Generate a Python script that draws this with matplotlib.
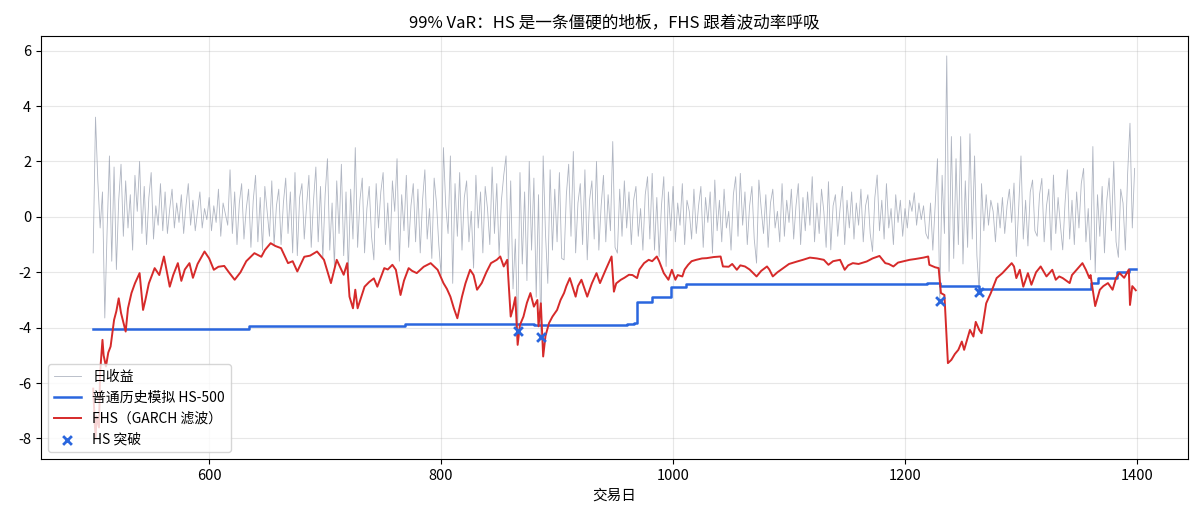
import numpy as np
import matplotlib
matplotlib.use("Agg")
import matplotlib.pyplot as plt

plt.rcParams['font.family'] = ['Noto Sans CJK SC', 'DejaVu Sans']
plt.rcParams['axes.unicode_minus'] = False

# 日收益（每两天读一个点，500..1398）
ret_start, ret_step = 500, 2
returns = [
    -1.3, 3.6, 1.3, -0.4, 0.9, -3.65, -0.5, 2.2, -1.6, 1.8,
    -1.9, 0.6, 1.9, -0.7, 1.3, -0.4, 0.8, -1.2, 1.5, 0.2,
    2.0, -0.6, 1.1, -1.0, 0.7, 1.6, -0.8, 0.4, -0.3, 1.2,
    -0.5, 0.9, -0.6, 0.3, 1.0, -0.4, 0.5, -0.2, 0.8, -0.6,
    0.4, 1.2, -0.3, 0.6, -0.5, 0.2, 0.9, -0.4, 0.3, -0.1,
    0.7, -0.5, 0.4, -0.2, 1.0, -0.7, 0.5, 0.1, -0.3, 1.7,
    -0.6, 0.9, -1.0, 0.5, 1.2, -0.8, 0.3, 1.0, -1.1, 0.6,
    1.5, -0.9, 0.7, -1.2, 1.1, 0.2, -0.7, 1.3, -1.0, 0.4,
    1.0, -1.0, 0.5, 1.4, -0.6, 0.9, -1.3, 1.6, -1.4, 0.7,
    1.2, -0.8, 0.4, 1.5, -1.1, 0.6, 1.8, -0.9, 1.1, -1.5,
    0.8, 2.1, -1.2, 0.5, -1.8, 1.3, -0.6, 1.9, -1.4, 0.9,
    -2.0, 1.0, -0.8, 2.5, -1.1, 0.6, 1.4, -1.3, 0.3, 1.1,
    -0.7, -1.55, 1.2, -0.4, 0.9, 1.6, -1.0, 0.5, -1.2, 1.3,
    0.2, 2.1, -1.6, 0.8, -0.5, 1.5, -1.1, 0.4, 1.2, -0.9,
    1.0, -1.3, 0.6, 1.7, -0.8, 0.3, -1.5, 1.4, 0.5, -1.0,
    -2.1, 2.5, 0.4, -0.6, 2.2, -2.4, 1.2, -0.7, 1.6, -1.2,
    0.7, 1.3, -0.9, 0.2, -1.85, 1.5, -0.4, 0.9, -1.3, 1.1,
    0.3, -1.0, 1.8, -0.6, 1.2, -1.4, 0.6, 1.5, 2.2, -1.9,
    1.3, -2.6, -0.8, -4.12, 1.6, -1.7, 0.9, -2.3, 2.0, -1.2,
    1.4, -2.9, 0.8, -4.34, 2.2, -0.6, -2.4, 1.7, -1.2, 1.0,
    -0.9, 1.6, -1.5, -1.55, 0.8, 1.9, -0.7, 2.36, -1.3, 0.5,
    1.2, -1.0, 1.7, -1.55, 0.6, 1.3, -0.8, 2.0, -1.2, 0.4,
    1.5, -0.9, 0.8, -0.5, 2.72, -1.1, -1.31, 1.0, -0.7, 1.3,
    -0.4, 0.9, -1.0, 0.6, 1.1, -0.7, 0.3, -1.2, 0.8, 1.45,
    -0.8, 1.57, -1.2, 0.7, -1.43, 0.4, 1.45, -1.79, 0.9, -0.5,
    1.1, -0.9, 0.5, -0.3, 1.2, -1.0, 0.6, 0.2, -0.8, 1.0,
    -0.6, 0.4, 1.1, -1.1, 0.7, -0.2, 0.9, -1.31, 1.33, -0.5,
    0.6, -0.9, 1.0, -0.4, 0.2, -1.2, 0.8, 1.45, -0.7, 1.57,
    -0.3, 0.9, -1.0, 0.4, 1.1, -0.8, -1.67, 1.33, 0.3, -0.6,
    0.8, -1.1, 0.5, 1.0, -0.4, 0.2, -0.9, 1.2, -0.7, 0.6,
    -0.2, 1.0, -0.8, 0.4, 1.2, -1.0, 0.7, -0.5, 0.9, -0.3,
    1.45, -0.9, 0.5, -0.6, 1.0, 0.2, -1.1, 1.27, -1.19, 0.4,
    0.8, -0.7, 0.3, 1.1, -1.0, 0.6, -0.4, 0.9, -0.8, 0.5,
    -0.3, 1.0, -0.9, 0.4, 0.8, -0.6, -1.25, 0.7, 1.51, -0.5,
    0.6, -0.8, 1.2, -0.4, 0.3, -1.0, 0.8, -0.2, 0.6, -0.7,
    0.3, -0.4, 0.6, 0.2, 0.87, -0.3, 0.5, -0.1, 0.4, -0.6,
    -0.8, 0.5, -1.2, 0.4, 2.1, -3.03, 1.5, -0.6, 5.81, -1.97,
    2.9, -1.5, 2.1, -1.0, 2.9, -1.7, 1.3, -1.1, 3.0, -0.8,
    2.2, -1.4, -2.72, 1.2, -0.5, 0.8, -0.3, 0.6, 0.2, -0.9,
    0.5, -0.4, 0.7, -0.6, 0.4, 1.0, -0.2, 1.22, -1.43, 0.3,
    2.2, -0.8, 0.6, -1.05, 0.9, 1.33, -0.5, -0.7, 0.8, 1.39,
    -0.9, 0.4, 1.0, -1.2, 1.51, -0.6, 0.7, -0.3, -1.19, 0.5,
    1.7, -0.8, 0.6, -1.0, 0.9, -0.4, 1.2, 1.75, -0.9, 0.3,
    -1.55, 2.54, -2.0, 0.8, -0.7, 1.1, -1.3, 0.6, 1.4, -0.5,
    2.0, -0.9, -1.46, 1.0, 0.5, -1.2, 1.6, 3.38, -0.4, 1.75,
]
ret_days = ret_start + ret_step * np.arange(len(returns))

# FHS 99% VaR（读取的拐点）
fhs_days = [
    500, 502, 503, 505, 506, 508, 509, 511, 513, 515, 518, 520, 522, 524, 528, 530,
    533, 536, 540, 543, 545, 548, 553, 557, 561, 566, 569, 573, 576, 579, 583, 586,
    590, 596, 600, 604, 608, 613, 617, 622, 627, 632, 639, 645, 648, 653, 657, 662,
    668, 672, 676, 682, 687, 693, 699, 705, 710, 716, 719, 721, 724, 726, 728, 734,
    738, 742, 745, 751, 754, 758, 761, 765, 768, 772, 775, 779, 785, 791, 797, 802,
    805, 808, 811, 814, 818, 821, 825, 828, 831, 835, 839, 843, 848, 851, 854, 857,
    860, 862, 864, 866, 868, 871, 874, 877, 880, 883, 884, 886, 888, 890, 893, 896,
    900, 903, 906, 908, 911, 916, 918, 921, 926, 930, 934, 937, 942, 947, 949, 951,
    955, 958, 962, 965, 969, 971, 975, 979, 982, 986, 988, 992, 996, 999, 1002, 1004,
    1008, 1010, 1013, 1016, 1020, 1025, 1029, 1035, 1041, 1043, 1048, 1051, 1055, 1058, 1062, 1066,
    1072, 1076, 1081, 1083, 1086, 1090, 1095, 1100, 1107, 1112, 1118, 1124, 1130, 1134, 1138, 1144,
    1148, 1151, 1155, 1160, 1167, 1172, 1178, 1183, 1186, 1190, 1194, 1198, 1204, 1209, 1213, 1216,
    1220, 1221, 1226, 1229, 1231, 1234, 1237, 1240, 1243, 1246, 1249, 1251, 1256, 1259, 1261, 1264,
    1266, 1270, 1274, 1279, 1284, 1288, 1292, 1294, 1296, 1299, 1302, 1306, 1309, 1313, 1317, 1322,
    1327, 1330, 1333, 1336, 1342, 1344, 1348, 1353, 1356, 1359, 1360, 1364, 1368, 1371, 1375, 1379,
    1382, 1385, 1389, 1393, 1394, 1396, 1399,
]
fhs_var = [
    -6.2, -8.0, -7.2, -7.6, -5.6, -4.44, -5.0, -5.4, -4.9, -4.68, -3.72, -3.4, -2.94, -3.47, -4.14, -3.3,
    -2.75, -2.4, -2.03, -3.36, -3.0, -2.4, -1.85, -2.1, -1.43, -2.52, -2.1, -1.67, -2.31, -1.9, -1.67, -2.2,
    -1.7, -1.25, -1.5, -1.91, -1.8, -1.77, -2.0, -2.27, -2.0, -1.6, -1.31, -1.44, -1.2, -0.95, -1.05, -1.13,
    -1.67, -1.6, -1.97, -1.44, -1.4, -1.25, -1.55, -2.39, -1.55, -2.09, -1.67, -2.88, -3.3, -2.63, -3.3, -2.52,
    -2.35, -2.22, -2.52, -1.85, -1.9, -1.73, -1.91, -2.82, -2.3, -1.85, -1.95, -2.03, -1.8, -1.67, -1.91, -2.39,
    -2.6, -2.88, -3.3, -3.66, -2.88, -2.4, -1.91, -2.1, -2.63, -2.39, -2.0, -1.67, -1.55, -1.43, -1.79, -1.55,
    -3.6, -3.3, -2.9, -4.62, -3.9, -3.6, -3.1, -2.75, -3.24, -3.0, -3.95, -3.12, -5.04, -4.3, -3.84, -3.6,
    -3.36, -3.0, -2.75, -2.5, -2.21, -2.88, -2.5, -2.27, -2.88, -2.4, -2.03, -2.39, -1.9, -1.43, -2.7, -2.4,
    -2.27, -2.2, -2.09, -2.1, -2.21, -1.9, -1.67, -1.55, -1.6, -1.43, -1.6, -2.03, -2.27, -1.91, -2.27, -2.1,
    -2.15, -1.9, -1.73, -1.6, -1.55, -1.5, -1.49, -1.45, -1.43, -1.79, -1.8, -1.7, -1.91, -1.75, -1.79, -1.9,
    -2.15, -1.95, -1.79, -1.9, -2.15, -2.0, -1.85, -1.7, -1.61, -1.55, -1.47, -1.5, -1.55, -1.73, -1.6, -1.55,
    -1.91, -1.75, -1.67, -1.7, -1.61, -1.5, -1.41, -1.67, -1.7, -1.79, -1.65, -1.61, -1.55, -1.52, -1.49, -1.47,
    -1.43, -1.73, -1.82, -1.85, -2.75, -2.82, -5.28, -5.16, -4.95, -4.8, -4.5, -4.8, -4.08, -4.32, -3.79, -4.08,
    -4.2, -3.12, -2.75, -2.21, -2.03, -1.85, -1.67, -1.79, -2.21, -1.91, -2.52, -2.03, -2.45, -2.0, -1.79, -2.15,
    -1.91, -2.27, -2.15, -2.21, -2.39, -2.1, -1.91, -1.67, -1.91, -2.21, -2.1, -3.22, -2.63, -2.5, -2.39, -2.63,
    -2.2, -2.03, -2.2, -1.9, -3.18, -2.5, -2.65,
]

# 普通历史模拟 HS-500（阶梯：起始日与水平）
hs_days = [500, 634, 769, 880, 960, 966, 969, 982, 998, 1011, 1219, 1230, 1264, 1360, 1366, 1383, 1393, 1399]
hs_var = [-4.04, -3.93, -3.86, -3.91, -3.87, -3.82, -3.07, -2.88, -2.52, -2.42, -2.38, -2.49, -2.59, -2.38, -2.22, -1.99, -1.88, -1.88]

# HS 突破
breach_days = [866, 886, 1230, 1264]
breach_vals = [-4.12, -4.34, -3.03, -2.72]

fig = plt.figure(figsize=(11.99, 5.17), dpi=100)
ax = fig.add_axes([0.0342, 0.1122, 0.9566, 0.8182])

ax.plot(ret_days, returns, color='#8e96a8', lw=0.6, alpha=0.7, label='日收益')
ax.step(hs_days, hs_var, where='post', color='#2a66de', lw=1.8, label='普通历史模拟 HS-500')
ax.plot(fhs_days, fhs_var, color='#d62a2a', lw=1.4, label='FHS（GARCH 滤波）')
ax.scatter(breach_days, breach_vals, marker='x', color='#2a66de', s=40, linewidths=2, zorder=5, label='HS 突破')

ax.set_xlim(455, 1444)
ax.set_ylim(-8.74, 6.53)
ax.set_xticks([600, 800, 1000, 1200, 1400])
ax.set_yticks([-8, -6, -4, -2, 0, 2, 4, 6])
ax.grid(True, alpha=0.3)
ax.tick_params(labelsize=10.5)
ax.set_xlabel('交易日', fontsize=10.5)
ax.set_title('99% VaR：HS 是一条僵硬的地板，FHS 跟着波动率呼吸', fontsize=12)
ax.legend(loc='lower left', fontsize=10)

fig.savefig('out.png', dpi=100)
